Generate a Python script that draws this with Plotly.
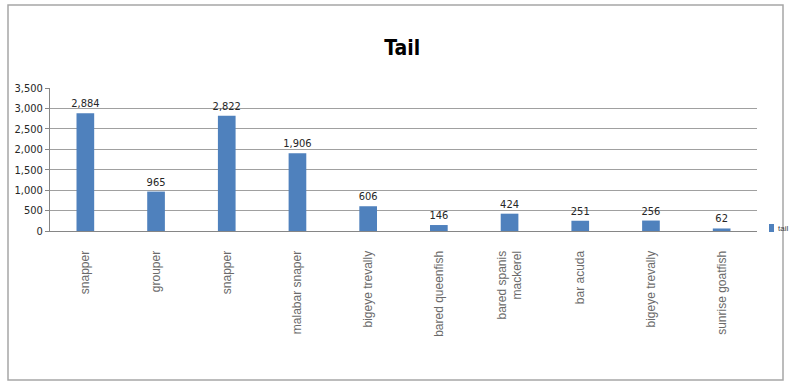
import plotly.graph_objects as go

categories = ["snapper", "grouper", "snapper", "malabar snaper", "bigeye trevally",
              "bared queenfish", "bared spanis<br>mackerel", "bar acuda",
              "bigeye trevally", "sunrise goatfish"]
values = [2884, 965, 2822, 1906, 606, 146, 424, 251, 256, 62]
series_name = "tail"
title_text = "Tail"
y_ticks = [0, 500, 1000, 1500, 2000, 2500, 3000, 3500]

W, H = 790, 383
L, R, T, B = 50, 33, 88, 152
pw, ph = W - L - R, H - T - B

positions = list(range(len(categories)))
bar_color = "#4F81BD"
narrow = "DejaVu Sans Condensed, Liberation Sans, sans-serif"

fig = go.Figure()
fig.add_trace(go.Bar(
    x=positions, y=values, name=series_name,
    marker=dict(color=bar_color, line=dict(width=0)),
    width=0.25,
    text=[f"{v:,}" for v in values], textposition="outside",
    textfont=dict(family=narrow, size=11, color="#262626"),
    constraintext="none",
    cliponaxis=False, showlegend=False,
))

def px_x(x):
    return (x - L) / pw

def px_y(y):
    return (H - B - y) / ph

shapes = [
    dict(type="rect", xref="paper", yref="paper",
         x0=px_x(8), x1=px_x(783), y0=px_y(380), y1=px_y(5),
         line=dict(color="#A6A6A6", width=1.5), layer="below"),
    dict(type="rect", xref="paper", yref="paper",
         x0=px_x(769), x1=px_x(774), y0=px_y(232), y1=px_y(224),
         fillcolor=bar_color, line=dict(width=0)),
]

fig.update_layout(
    width=W, height=H,
    margin=dict(l=L, r=R, t=T, b=B, autoexpand=False),
    paper_bgcolor="white", plot_bgcolor="white",
    title=dict(text="<b>" + title_text + "</b>", x=px_x(410), xanchor="center",
               y=1 - 48 / H, yanchor="middle",
               font=dict(family=narrow, size=21, color="black")),
    xaxis=dict(tickmode="array", tickvals=positions, ticktext=categories,
               tickangle=-90, range=[-0.5, len(categories) - 0.5],
               showline=True, linecolor="#868686", linewidth=1,
               showgrid=False, ticks="", ticklabelstandoff=14,
               tickfont=dict(family="Liberation Sans, Arial, sans-serif", size=12, color="#6a6a6a")),
    yaxis=dict(range=[0, 3500], tickvals=y_ticks, tickformat=",",
               showgrid=True, gridcolor="#A0A0A0", gridwidth=1,
               showline=True, linecolor="#868686", linewidth=1,
               ticks="outside", ticklen=4, tickcolor="#868686",
               tickfont=dict(family=narrow, size=11, color="#262626"),
               zeroline=False),
    shapes=shapes,
    annotations=[dict(text=series_name, xref="paper", yref="paper",
                      x=px_x(776), y=px_y(228), xanchor="left", yanchor="middle",
                      showarrow=False,
                      font=dict(family="Liberation Sans, Arial, sans-serif", size=8, color="#404040"))],
    bargap=0.75,
)

fig.write_html("out.html")
